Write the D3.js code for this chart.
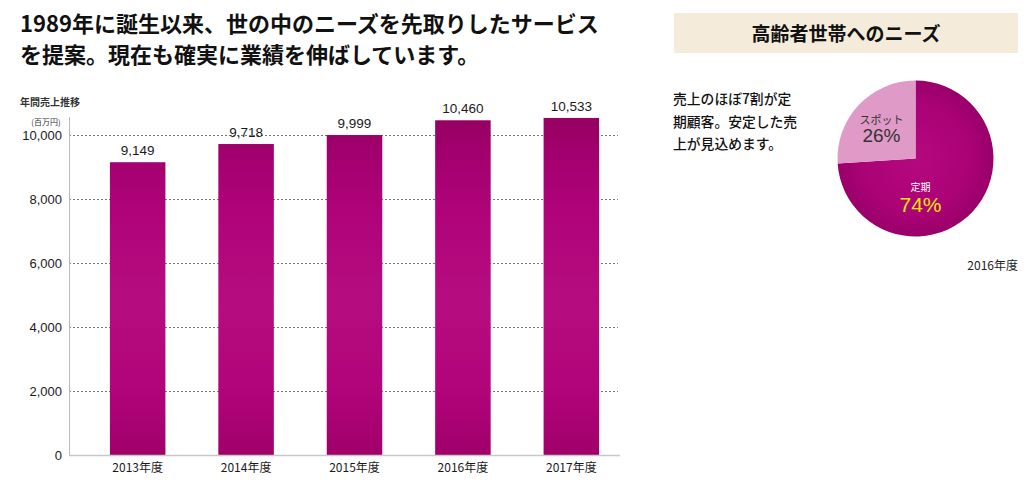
<!DOCTYPE html>
<html><head><meta charset="utf-8">
<script src="https://cdn.jsdelivr.net/npm/d3@7"></script>
<style>
html,body{margin:0;padding:0;background:#fff;}
svg{display:block;}
</style></head>
<body>
<script>
const titleLines = ["1989年に誕生以来、世の中のニーズを先取りしたサービス", "を提案。現在も確実に業績を伸ばしています。"];
const chartLabel = "年間売上推移";
const unitLabel = "(百万円)";
const years = ["2013年度", "2014年度", "2015年度", "2016年度", "2017年度"];
const sales = [9149, 9718, 9999, 10460, 10533];
const yTicks = [0, 2000, 4000, 6000, 8000, 10000];
const panelTitle = "高齢者世帯へのニーズ";
const panelText = ["売上のほぼ7割が定", "期顧客。安定した売", "上が見込めます。"];
const pieLabels = ["定期", "スポット"];
const pieValues = [74, 26];
const pieYear = "2016年度";

const W = 1027, H = 496;
const svg = d3.select("body").append("svg").attr("width", W).attr("height", H);
const defs = svg.append("defs");
const jp = "'Noto Sans CJK JP', 'Noto Sans', sans-serif";
const num = "'Liberation Sans', Arial, sans-serif";

// gradients
const bg = defs.append("linearGradient").attr("id", "barGrad")
  .attr("gradientUnits", "userSpaceOnUse").attr("x1", 0).attr("x2", 0).attr("y1", 110).attr("y2", 455);
[[0, "#93005f"], [0.14, "#a3006f"], [0.3, "#b0037a"], [0.55, "#b50d7f"], [0.8, "#b2047b"], [1, "#a0006a"]]
  .forEach(([o, c]) => bg.append("stop").attr("offset", o).attr("stop-color", c));
const pg = defs.append("radialGradient").attr("id", "pieGrad").attr("cx", "50%").attr("cy", "50%").attr("r", "50%");
[[0, "#b5087f"], [0.7, "#ab0276"], [1, "#99006a"]]
  .forEach(([o, c]) => pg.append("stop").attr("offset", o).attr("stop-color", c));

// title
svg.append("g").selectAll("text").data(titleLines).join("text")
  .attr("x", 20).attr("y", (d, i) => 32 + i * 31)
  .attr("font-family", jp).attr("font-weight", "bold").attr("font-size", 22)
  .attr("fill", "#111").text(d => d);

// bar chart
const x = d3.scaleBand().domain(years).range([57, 652]).padding(0.488);
const y = d3.scaleLinear().domain([0, 10000]).range([455, 135]);

svg.append("text").attr("x", 20).attr("y", 106).attr("font-family", jp)
  .attr("font-weight", "bold").attr("font-size", 10).attr("fill", "#333").text(chartLabel);
svg.append("text").attr("x", 46).attr("y", 125).attr("text-anchor", "middle").attr("font-family", jp)
  .attr("font-size", 8).attr("fill", "#333").text(unitLabel);

// grid
svg.append("g").selectAll("line").data(yTicks.filter(d => d > 0)).join("line")
  .attr("x1", 69).attr("x2", 618).attr("y1", d => y(d)).attr("y2", d => y(d))
  .attr("stroke", "#777").attr("stroke-dasharray", "2,2").attr("stroke-width", 1)
  .attr("shape-rendering", "crispEdges");

// y axis
const yAxis = svg.append("g").attr("transform", "translate(69,0)")
  .call(d3.axisLeft(y).tickValues(yTicks).tickSize(0).tickPadding(7).tickFormat(d3.format(",")));
yAxis.select(".domain").remove();
yAxis.selectAll("text").attr("font-family", num).attr("font-size", 13).attr("fill", "#1a1a1a");
svg.append("line").attr("x1", 69).attr("x2", 69).attr("y1", 117).attr("y2", 455)
  .attr("stroke", "#bbb").attr("shape-rendering", "crispEdges");

// bars
svg.append("g").selectAll("rect").data(sales).join("rect")
  .attr("x", (d, i) => x(years[i])).attr("width", x.bandwidth())
  .attr("y", d => y(d)).attr("height", d => y(0) - y(d))
  .attr("fill", "url(#barGrad)");

// baseline
svg.append("line").attr("x1", 69).attr("x2", 620).attr("y1", 455.5).attr("y2", 455.5)
  .attr("stroke", "#c8c8c8").attr("stroke-width", 1.5);

// value labels
svg.append("g").selectAll("text").data(sales).join("text")
  .attr("x", (d, i) => x(years[i]) + x.bandwidth() / 2).attr("y", d => y(d) - 7)
  .attr("text-anchor", "middle").attr("font-family", num).attr("font-size", 13.5)
  .attr("fill", "#1a1a1a").text(d => d3.format(",")(d));

// x axis labels
const xAxis = svg.append("g").attr("transform", "translate(0,455)")
  .call(d3.axisBottom(x).tickSize(0).tickPadding(8));
xAxis.select(".domain").remove();
xAxis.selectAll("text").attr("font-family", jp).attr("font-size", 12).attr("fill", "#1a1a1a");

// right panel
svg.append("rect").attr("x", 674).attr("y", 13).attr("width", 344).attr("height", 40).attr("fill", "#f4ebda");
svg.append("text").attr("x", 846).attr("y", 41).attr("text-anchor", "middle")
  .attr("font-family", jp).attr("font-weight", "bold").attr("font-size", 19).attr("fill", "#111").text(panelTitle);

svg.append("g").selectAll("text").data(panelText).join("text")
  .attr("x", 673).attr("y", (d, i) => 104 + i * 22.5)
  .attr("font-family", jp).attr("font-weight", "500").attr("font-size", 13.8).attr("fill", "#111").text(d => d);

// pie
const cx = 915.5, cy = 158.5, R = 78;
const pie = d3.pie().sort(null).value(d => d)(pieValues);
const arc = d3.arc().innerRadius(0).outerRadius(R);
const pieColors = ["url(#pieGrad)", "#e09ac8"];
const pg2 = svg.append("g").attr("transform", `translate(${cx},${cy})`);
pg2.selectAll("path").data(pie).join("path").attr("d", arc).attr("fill", (d, i) => pieColors[i]);

// pie labels
pg2.append("text").attr("x", -34).attr("y", -35).attr("text-anchor", "middle")
  .attr("font-family", jp).attr("font-size", 11).attr("fill", "#333").text(pieLabels[1]);
pg2.append("text").attr("x", -34).attr("y", -17).attr("text-anchor", "middle")
  .attr("font-family", num).attr("font-size", 19).attr("fill", "#333").text(pieValues[1] + "%");
pg2.append("text").attr("x", 5).attr("y", 32).attr("text-anchor", "middle")
  .attr("font-family", jp).attr("font-size", 10).attr("fill", "#fff").text(pieLabels[0]);
pg2.append("text").attr("x", 5).attr("y", 53).attr("text-anchor", "middle")
  .attr("font-family", num).attr("font-size", 21).attr("fill", "#ffe600").text(pieValues[0] + "%");

svg.append("text").attr("x", 1018).attr("y", 270).attr("text-anchor", "end")
  .attr("font-family", jp).attr("font-size", 12).attr("fill", "#222").text(pieYear);
</script>
</body></html>
